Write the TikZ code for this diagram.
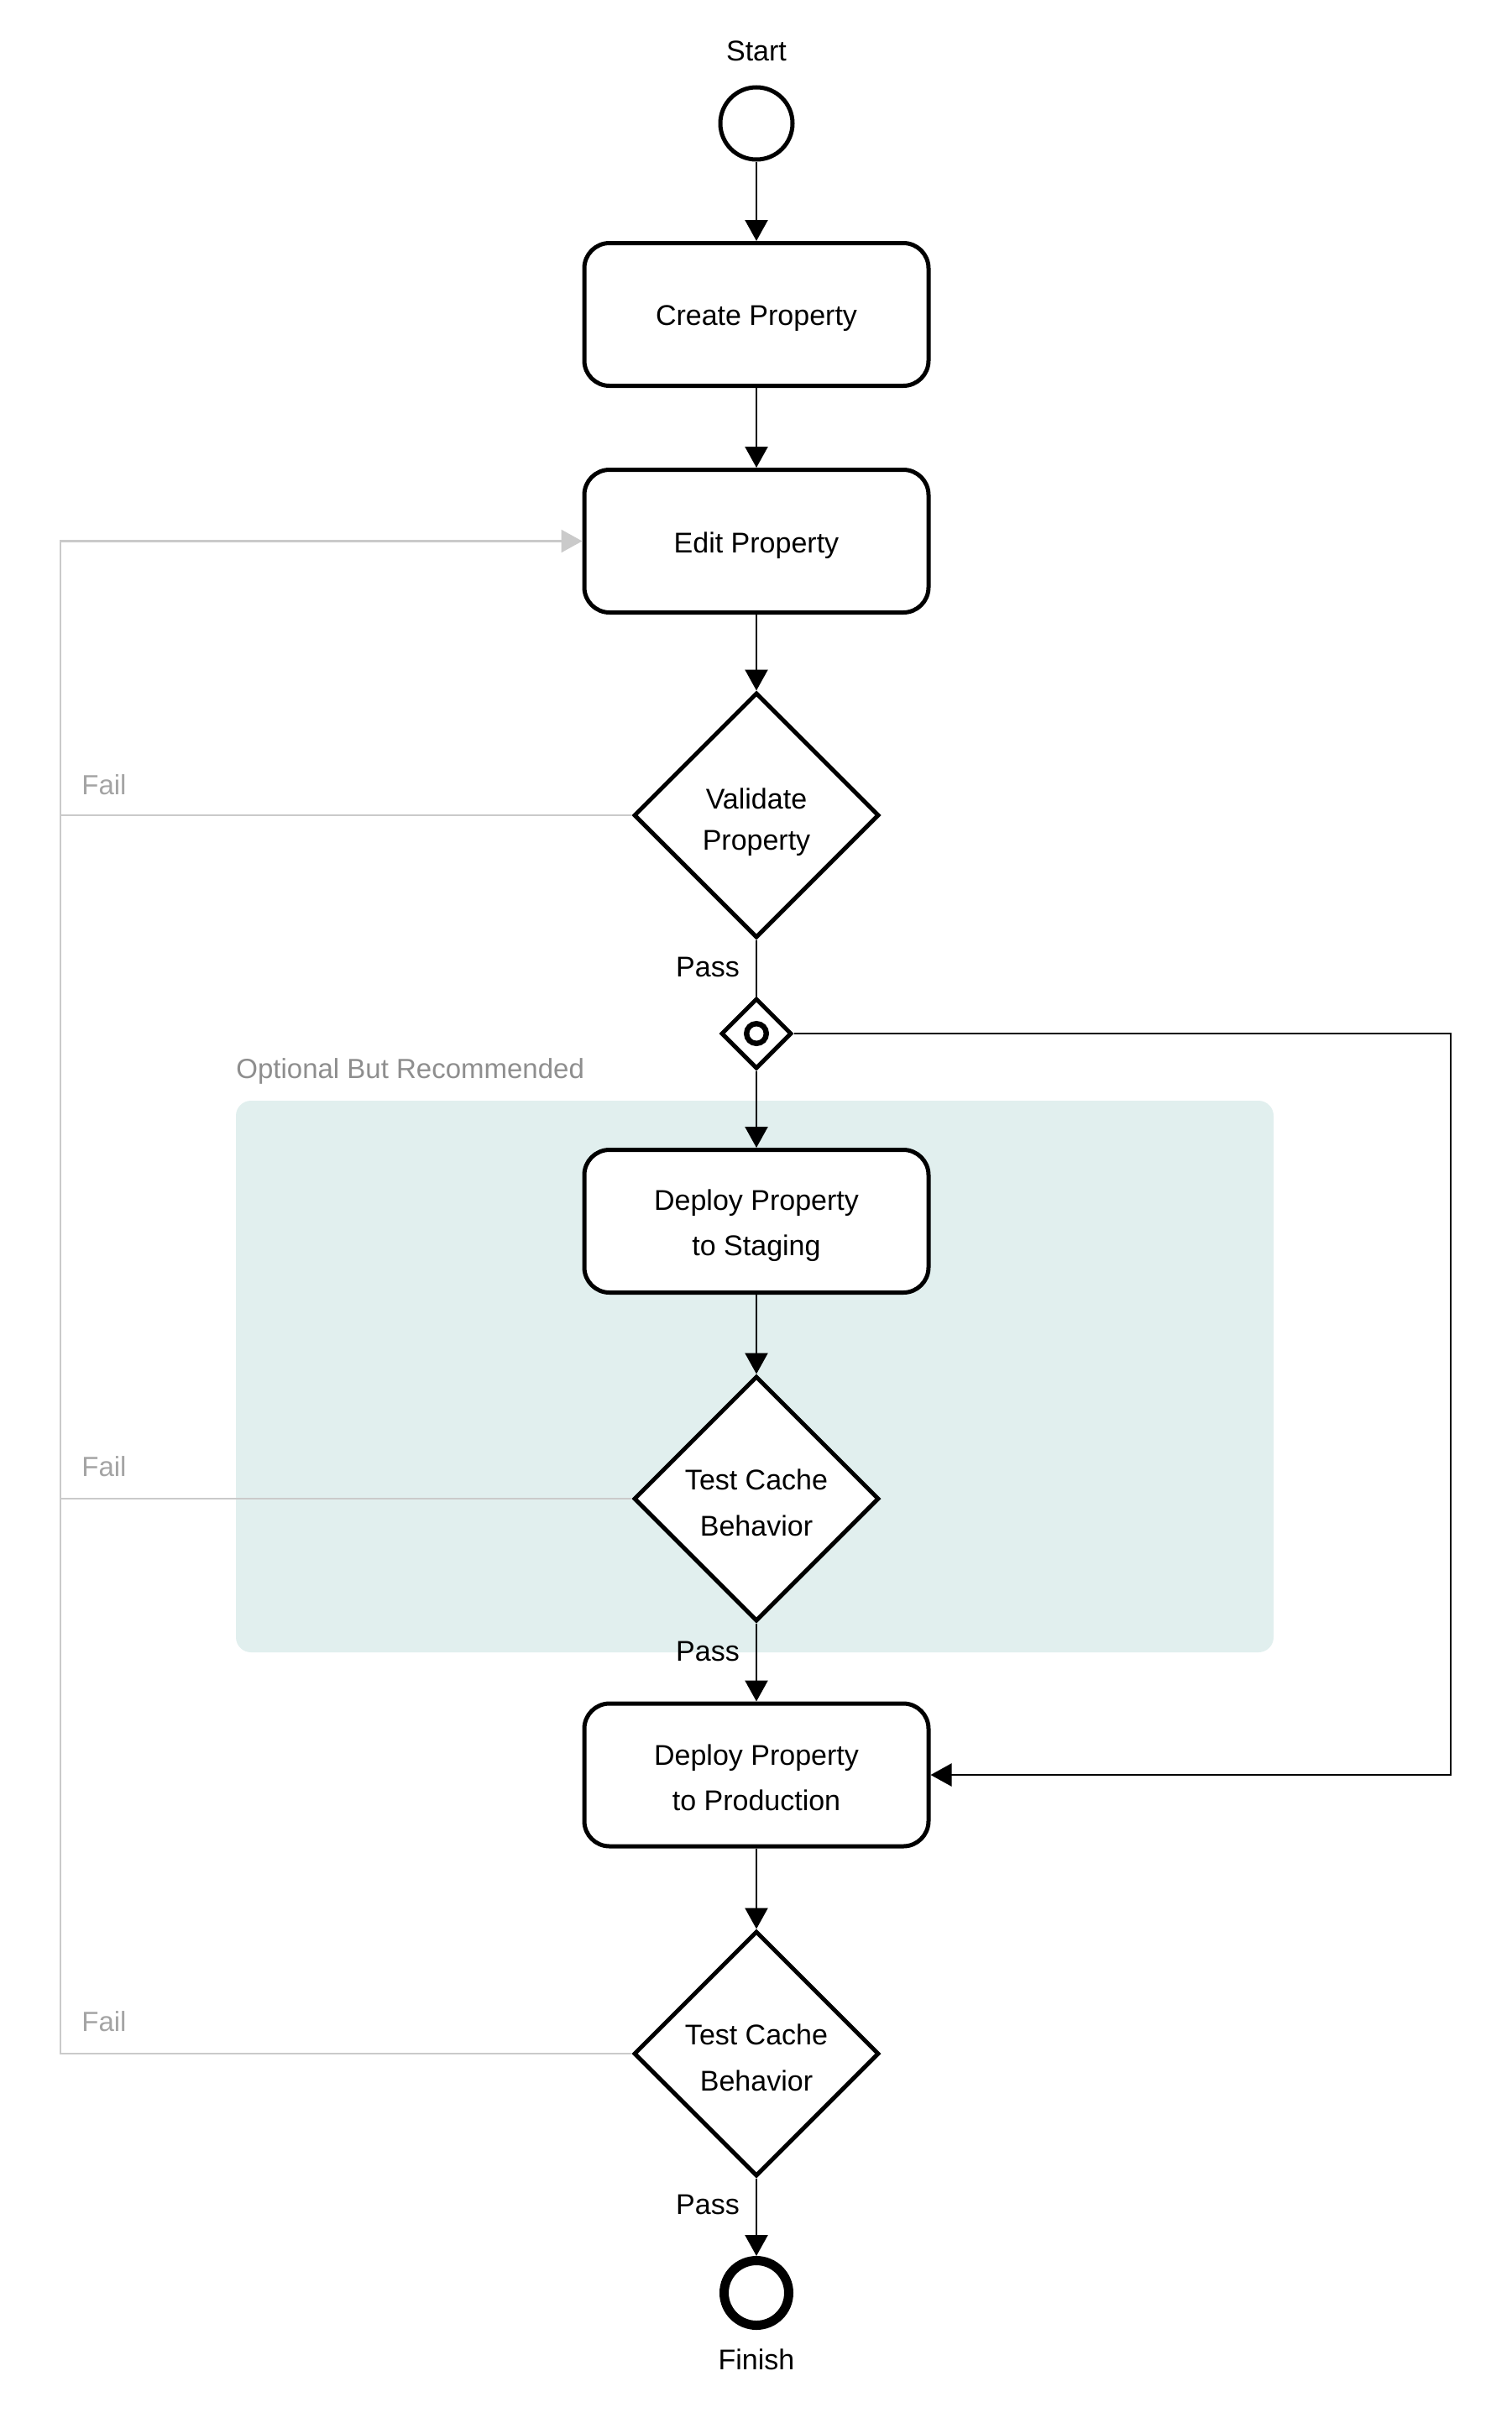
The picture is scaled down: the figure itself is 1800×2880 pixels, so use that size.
\documentclass[tikz,border=0pt]{standalone}
\usepackage{fontspec}
\setmainfont{Liberation Sans}
\usetikzlibrary{shapes.geometric,arrows.meta,calc}
\definecolor{groupfill}{HTML}{E1EFEE}
\definecolor{railgray}{HTML}{CACACA}
\definecolor{labgray}{HTML}{8E8E8E}
\definecolor{failgray}{HTML}{A4A4A4}
\newcommand{\mainfs}{\fontsize{17pt}{27pt}\selectfont}
\begin{document}
\begin{tikzpicture}[x=0.5pt,y=-0.5pt,
  task/.style={draw, line width=2.5pt, rounded corners=15pt, minimum width=205pt,
    minimum height=85pt, fill=white, inner sep=0pt},
  decision/.style={diamond, draw, line width=2.5pt, minimum width=146pt,
    minimum height=146pt, inner sep=0pt, fill=white},
  boxtext/.style={font=\mainfs, align=center, inner sep=0pt, yshift=-2.5pt},
  plain/.style={font=\mainfs, inner sep=0pt},
  flow/.style={line width=1.25pt, -{Triangle[width=13.5pt,length=12.5pt]}},
  flowline/.style={line width=1.25pt},
  failline/.style={draw=railgray, line width=1.25pt},
  failarrow/.style={draw=railgray, line width=1.25pt, -{Triangle[width=13.5pt,length=12.5pt,fill=railgray]}},
  faillab/.style={font=\fontsize{16.5pt}{20pt}\selectfont, text=failgray, inner sep=0pt, anchor=west},
]
\useasboundingbox (0,0) rectangle (1800,2880);

% group background
\node[fill=groupfill, rounded corners=9pt, minimum width=618pt, minimum height=328.5pt, inner sep=0pt] (grp) at (899,1639.5) {};
\node[font=\fontsize{16.5pt}{20pt}\selectfont, text=labgray, inner sep=0pt, anchor=west] (grplab) at (281,1276) {Optional But Recommended};

% nodes
\node[plain] (startlab) at (901,61) {Start};
\node[circle, draw, line width=2.5pt, minimum size=43pt, inner sep=0pt, fill=white] (start) at (901,147) {};
\node[task, label={[boxtext, name=createtxt]center:Create Property}] (create) at (901,374.5) {};
\node[task, label={[boxtext, name=edittxt]center:Edit Property}] (edit) at (901,644.5) {};
\node[decision, label={[boxtext, name=validatetxt, yshift=-1.5pt, font=\fontsize{17pt}{24.5pt}\selectfont]center:{Validate\\Property}}] (validate) at (901,971) {};
\node[diamond, draw, line width=2.5pt, minimum width=42pt, minimum height=42pt, inner sep=0pt, fill=white] (gw) at (901,1231) {};
\node[circle, draw, line width=3.2pt, minimum size=11.8pt, inner sep=0pt] (gwmark) at (901,1231) {};
\node[task, label={[boxtext, name=stagingtxt]center:{Deploy Property\\to Staging}}] (staging) at (901,1454.5) {};
\node[decision, label={[boxtext, name=test1txt, font=\fontsize{17pt}{27.5pt}\selectfont]center:{Test Cache\\Behavior}}] (test1) at (901,1785) {};
\node[task, label={[boxtext, name=prodtxt, yshift=1pt]center:{Deploy Property\\to Production}}] (prod) at (901,2114) {};
\node[decision, label={[boxtext, name=test2txt, font=\fontsize{17pt}{27.5pt}\selectfont]center:{Test Cache\\Behavior}}] (test2) at (901,2446) {};
\node[circle, draw, line width=5.5pt, minimum size=38.5pt, inner sep=0pt, fill=white] (finish) at (901,2731) {};
\node[plain] (finishlab) at (901,2810) {Finish};

% labels
\node[plain] (pass1) at (843,1152) {Pass};
\node[plain] (pass2) at (843,1967) {Pass};
\node[plain] (pass3) at (843,2626) {Pass};
\node[faillab] (fail1) at (97,935) {Fail};
\node[faillab] (fail2) at (97,1747) {Fail};
\node[faillab] (fail3) at (97,2408) {Fail};

\coordinate (rail) at (72,644.5);
\coordinate (rt) at (1728,1231);

% fail connectors
\draw[failline] (test2.west) -| (rail);
\draw[failline] (test1.west) -- (test1.west -| rail);
\draw[failarrow] (validate.west) -| (rail) -- (edit.west);

% main flow
\draw[flow] (start.south) -- (create.north);
\draw[flow] (create.south) -- (edit.north);
\draw[flow] (edit.south) -- (validate.north);
\draw[flowline] (validate.south) -- (gw.north);
\draw[flow] (gw.south) -- (staging.north);
\draw[flow] (staging.south) -- (test1.north);
\draw[flow] (test1.south) -- (prod.north);
\draw[flow] (prod.south) -- (test2.north);
\draw[flow] (test2.south) -- (finish.north);
\draw[flow] (gw.east) -- (rt) |- (prod.east);
\end{tikzpicture}
\end{document}
